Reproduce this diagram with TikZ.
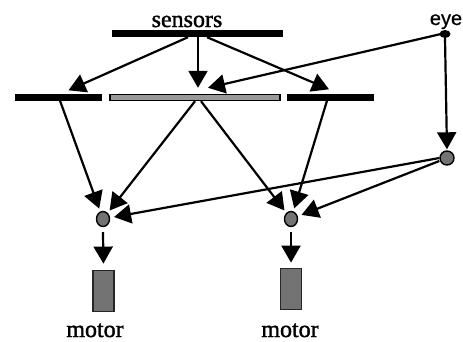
\documentclass[tikz,border=0pt]{standalone}
\usepackage{fontspec}
\setmainfont{Liberation Serif}[FakeBold=1.5]
\newfontfamily\eyefont{Liberation Sans}[FakeBold=0.8]
\usetikzlibrary{arrows.meta,shapes.geometric}
\begin{document}
\begin{tikzpicture}[x=1pt,y=-1pt,
  wire/.style={line width=2.2pt,-{Triangle[length=17pt,width=19pt]}},
  solidbar/.style={rectangle,fill=black,inner sep=0pt,minimum height=7pt},
  greybar/.style={rectangle,fill=black!40,draw=black,line width=1.4pt,inner sep=0pt,minimum height=6pt},
  unit/.style={ellipse,fill=black!55,draw=black,line width=1.4pt,inner sep=0pt,minimum width=13pt,minimum height=15pt},
  motorbox/.style={rectangle,fill=black!55,draw=black!85,line width=1.8pt,inner sep=0pt,minimum width=21pt,minimum height=41pt},
  label/.style={font=\fontsize{24}{28}\selectfont,inner sep=0pt,anchor=base}]
\useasboundingbox (0,0) rectangle (463,341);

% sensor layer and its three receivers
\node[label] (sensors) at (187,27) {sensors};
\node[solidbar,minimum width=171pt] (sbar) at (197.5,33.5) {};
\node[solidbar,minimum width=87pt] (lbar) at (58.5,97) {};
\node[greybar,minimum width=170pt] (mbar) at (195,97.5) {};
\node[solidbar,minimum width=87pt] (rbar) at (330.5,97) {};

% eye and its relay unit
\node[label,font=\eyefont\fontsize{20}{24}\selectfont] (eyelabel) at (446,25) {eye};
\node[ellipse,fill=black,inner sep=0pt,minimum width=11pt,minimum height=8pt] (eye) at (445,34) {};
\node[unit,minimum width=14pt,minimum height=14pt] (enode) at (447,158) {};

% output units and motors
\node[unit] (lnode) at (103,219) {};
\node[unit] (rnode) at (291,219) {};
\node[motorbox] (lmotor) at (103.5,291) {};
\node[motorbox] (rmotor) at (291,289) {};
\node[label] (lmotorlabel) at (95,337) {motor};
\node[label] (rmotorlabel) at (290,337) {motor};

% sensors to the second layer
\draw[wire] ([xshift=-9.5pt]sbar.south) -- ([xshift=10pt,yshift=3pt]lbar.north);
\draw[wire] ([xshift=0.5pt]sbar.south) -- ([xshift=3pt,yshift=6pt]mbar.north);
\draw[wire] ([xshift=9.5pt]sbar.south) -- ([xshift=-1.5pt,yshift=4pt]rbar.north);

% eye connections
\draw[wire] ([xshift=-4pt]eye.center) -- ([xshift=13pt,yshift=6pt]mbar.north);
\draw[wire,shorten >=1pt] (eye.south) -- (enode.north);

% second layer to output units
\draw[wire,shorten >=3pt] ([xshift=1.5pt]lbar.south) -- (lnode);
\draw[wire,shorten >=3pt] ([xshift=0pt]mbar.south) -- (lnode);
\draw[wire,shorten >=3pt] ([xshift=6pt]mbar.south) -- (rnode);
\draw[wire,shorten >=3pt] ([xshift=-3.5pt]rbar.south) -- (rnode);
\draw[wire,shorten >=4pt] (enode.west) -- (lnode);
\draw[wire,shorten >=4pt] ([yshift=-3pt]enode.west) -- (rnode);

% output units to motors
\draw[wire,shorten >=6pt] ([yshift=-5pt]lnode.south) -- (lmotor.north);
\draw[wire,shorten >=5pt] ([yshift=-5pt]rnode.south) -- (rmotor.north);
\end{tikzpicture}
\end{document}
